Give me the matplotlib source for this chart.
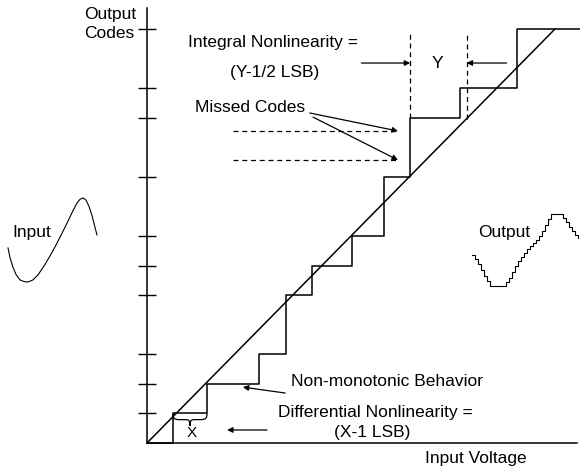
import matplotlib.pyplot as plt
from matplotlib.path import Path
from matplotlib.patches import PathPatch

plt.rcParams['font.family'] = ['Liberation Sans', 'DejaVu Sans']

W, H = 580, 471

# ADC transfer function, in LSB units
step_edges = [0.89, 2.06, 3.84, 4.77, 5.66, 7.03, 8.13, 9.03, 10.74, 12.70]
out_codes = [0, 1, 2, 3, 5, 6, 7, 9, 11, 12, 14]
ideal_end = 14
missed_levels = [9.57, 10.55]
inl_edges = [9.03, 10.97]

# little input sine sketch (x in px, amplitude normalised)
input_x = [8, 10, 13, 16, 20, 24, 28, 33, 38, 44, 50, 56, 62, 68, 73, 77, 80, 83, 86, 89, 92, 95, 97]
input_v = [-0.19, -0.42, -0.65, -0.82, -0.95, -0.99, -1.0, -0.95, -0.83, -0.62, -0.38,
           -0.12, 0.16, 0.45, 0.70, 0.88, 0.97, 1.0, 0.95, 0.80, 0.58, 0.30, 0.12]

# little quantised output sketch
output_x = [472, 475, 478, 481, 484, 487, 490, 506, 509, 512, 515, 518, 521, 524, 527,
            530, 533, 536, 539, 542, 545, 548, 551, 563, 566, 569, 572, 575, 578]
output_v = [-0.14, -0.25, -0.39, -0.56, -0.72, -0.86, -1.0, -0.89, -0.78, -0.61, -0.44,
            -0.31, -0.19, -0.08, 0.03, 0.11, 0.19, 0.28, 0.39, 0.53, 0.69, 0.86, 1.0,
            0.89, 0.78, 0.64, 0.53, 0.42, 0.33]


def fx(px):
    return px / W


def fy(py):
    return 1 - py / H


fig = plt.figure(figsize=(W / 100, H / 100), dpi=100)
fs = 12.5
lw = 1.1

ax = fig.add_axes([fx(147), fy(443), (577 - 147) / W, (443 - 8) / H])
ax.set_xlim(0, 430 / 29.14)
ax.set_ylim(0, 435 / 29.57)
for s in ['top', 'right']:
    ax.spines[s].set_visible(False)
for s in ['left', 'bottom']:
    ax.spines[s].set_linewidth(lw)
ax.set_xticks([])
ax.set_yticks(out_codes[1:])
ax.tick_params(axis='y', direction='inout', length=13, width=1, labelleft=False)

# staircase and ideal line
xs = [0] + step_edges + [ax.get_xlim()[1] + 0.2]
ys = out_codes + [out_codes[-1]]
ax.step(xs, ys, where='post', color='black', lw=lw, clip_on=False)
ax.plot([0, ideal_end], [0, ideal_end], color='black', lw=lw)

# INL markers
top = 13.87
ax.plot([inl_edges[0]] * 2, [out_codes[9] - 1, top], color='black', lw=0.9, ls=(0, (4, 3)))
ax.plot([inl_edges[1]] * 2, [inl_edges[1], top], color='black', lw=0.9, ls=(0, (4, 3)))
arr = dict(arrowstyle='-|>', color='black', lw=0.9, shrinkA=0, shrinkB=0, mutation_scale=8)
ax.annotate('', xy=(inl_edges[0], 12.85), xytext=(7.36, 12.85), arrowprops=arr)
ax.annotate('', xy=(inl_edges[1], 12.85), xytext=(12.34, 12.85), arrowprops=arr)

# missed codes
for lvl, src in zip(missed_levels, [(5.70, 11.02), (5.59, 11.16)]):
    ax.plot([2.95, 8.61], [lvl, lvl], color='black', lw=0.9, ls=(0, (4, 3)))
    ax.annotate('', xy=(8.61, lvl), xytext=src, arrowprops=arr)

# non-monotonic and DNL arrows
ax.annotate('', xy=(3.29, 1.89), xytext=(4.74, 1.69), arrowprops=arr)
ax.annotate('', xy=(2.75, 0.44), xytext=(4.12, 0.44), arrowprops=arr)

# brace under the first code width
x0, x1, y, d = step_edges[0], step_edges[1], out_codes[1], 0.42
w = x1 - x0
xm = (x0 + x1) / 2
verts = [(x0, y), (x0, y - 0.35 * d), (x0 + 0.03 * w, y - 0.5 * d), (x0 + 0.18 * w, y - 0.5 * d),
         (xm - 0.12 * w, y - 0.5 * d),
         (xm - 0.03 * w, y - 0.5 * d), (xm, y - 0.6 * d), (xm, y - d),
         (xm, y - 0.6 * d), (xm + 0.03 * w, y - 0.5 * d), (xm + 0.12 * w, y - 0.5 * d),
         (x1 - 0.18 * w, y - 0.5 * d),
         (x1 - 0.03 * w, y - 0.5 * d), (x1, y - 0.35 * d), (x1, y)]
codes = [Path.MOVETO] + [Path.CURVE4] * 3 + [Path.LINETO] + [Path.CURVE4] * 6 + [Path.LINETO] + [Path.CURVE4] * 3
ax.add_patch(PathPatch(Path(verts, codes), fill=False, lw=0.9, color='black'))

# labels
fig.text(fx(84), fy(14), 'Output', fontsize=fs, ha='left', va='center')
fig.text(fx(84), fy(33), 'Codes', fontsize=fs, ha='left', va='center')
fig.text(fx(273), fy(42), 'Integral Nonlinearity =', fontsize=fs, ha='center', va='center')
fig.text(fx(275), fy(73), '(Y-1/2 LSB)', fontsize=fs, ha='center', va='center')
fig.text(fx(437), fy(63), 'Y', fontsize=fs, ha='center', va='center')
fig.text(fx(250), fy(108), 'Missed Codes', fontsize=fs, ha='center', va='center')
fig.text(fx(12), fy(232), 'Input', fontsize=fs, ha='left', va='center')
fig.text(fx(478), fy(233), 'Output', fontsize=fs, ha='left', va='center')
fig.text(fx(387), fy(382), 'Non-monotonic Behavior', fontsize=fs, ha='center', va='center')
fig.text(fx(375), fy(412), 'Differential Nonlinearity =', fontsize=fs, ha='center', va='center')
fig.text(fx(372), fy(433), '(X-1 LSB)', fontsize=fs, ha='center', va='center')
fig.text(fx(192), fy(433), 'X', fontsize=fs - 1.5, ha='center', va='center')
fig.text(fx(476), fy(459), 'Input Voltage', fontsize=fs, ha='center', va='center')

# input sketch
ax_in = fig.add_axes([0, fy(290), 110 / W, 100 / H])
ax_in.set_xlim(0, 110)
ax_in.set_ylim(-50 / 42, 50 / 42)
ax_in.axis('off')
ax_in.plot(input_x, input_v, color='black', lw=0.8)

# output sketch
ax_out = fig.add_axes([fx(465), fy(295), 115 / W, 90 / H])
ax_out.set_xlim(465, 580)
ax_out.set_ylim(-45 / 36, 45 / 36)
ax_out.axis('off')
ax_out.step(output_x, output_v, where='post', color='black', lw=0.8)

fig.savefig('out.png', dpi=100)
